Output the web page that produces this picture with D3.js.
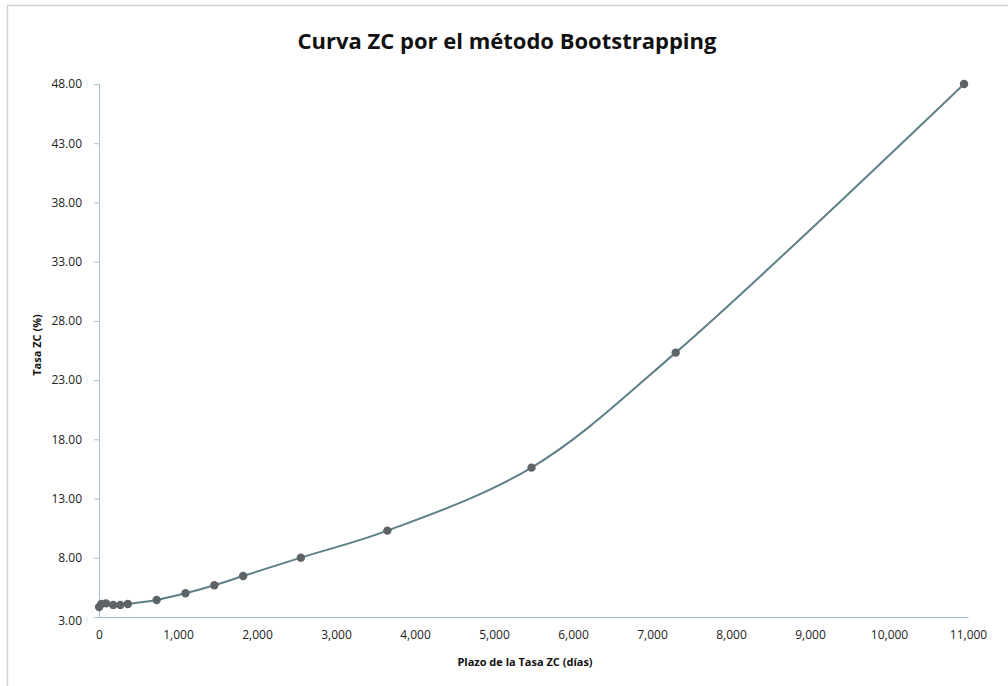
<!DOCTYPE html>
<html>
<head>
<meta charset="utf-8">
<script src="https://cdn.jsdelivr.net/npm/d3@7"></script>
<style>
  body { margin: 0; background: #fff; }
  text { font-family: "Open Sans", sans-serif; }
</style>
</head>
<body>
<script>
const w = 1008;
const h = 686;

// plazo (días) y tasa cero cupón (%)
const days = [1, 30, 90, 180, 270, 365, 730, 1095, 1460, 1825, 2555, 3650, 5475, 7300, 10950];
const rates = [3.85, 4.1, 4.15, 4.02, 4.02, 4.1, 4.44, 5.0, 5.68, 6.46, 8.01, 10.29, 15.61, 25.32, 48.0];
const yTicks = [3, 8, 13, 18, 23, 28, 33, 38, 43, 48];
const xTicks = [0, 1000, 2000, 3000, 4000, 5000, 6000, 7000, 8000, 9000, 10000, 11000];

const data = days.map((d, i) => ({ x: d, y: rates[i] }));

const svg = d3
  .select("body")
  .append("svg")
  .attr("width", w)
  .attr("height", h);

// marco del gráfico
svg
  .append("rect")
  .attr("x", 7.5)
  .attr("y", 5.5)
  .attr("width", w + 10)
  .attr("height", h + 10)
  .attr("fill", "#fff")
  .attr("stroke", "#cfd3d6")
  .attr("stroke-width", 1.5);

const x = d3.scaleLinear().domain([0, 11000]).range([99, 968]);
const y = d3.scaleLinear().domain([3, 48]).range([617, 84]);

svg
  .append("text")
  .attr("x", 507)
  .attr("y", 49)
  .attr("text-anchor", "middle")
  .attr("font-size", "22px")
  .attr("font-weight", "bold")
  .attr("fill", "#111")
  .text("Curva ZC por el método Bootstrapping");

// eje y
const yAxis = svg
  .append("g")
  .attr("transform", "translate(99,0)")
  .call(
    d3.axisLeft(y)
      .tickValues(yTicks)
      .tickFormat(d3.format(".2f"))
      .tickSize(5)
      .tickPadding(12)
  );
yAxis.select(".domain").attr("stroke", "#a9bfcb");
yAxis.selectAll(".tick line").attr("stroke", "#a9bfcb");
yAxis.selectAll("text").attr("font-size", "12px").attr("fill", "#222");
yAxis.select(".tick text").attr("dy", "0.6em");

// eje x
const xAxis = svg
  .append("g")
  .attr("transform", "translate(0,617)")
  .call(
    d3.axisBottom(x)
      .tickValues(xTicks)
      .tickFormat(d3.format(","))
      .tickSize(0)
      .tickPadding(13)
  );
xAxis.select(".domain").attr("stroke", "#a9bfcb");
xAxis.selectAll("text").attr("font-size", "12px").attr("fill", "#222");

svg
  .append("text")
  .attr("x", 525)
  .attr("y", 666)
  .attr("text-anchor", "middle")
  .attr("font-size", "11px")
  .attr("font-weight", "bold")
  .attr("fill", "#111")
  .text("Plazo de la Tasa ZC (días)");

svg
  .append("text")
  .attr("transform", "translate(41,345) rotate(-90)")
  .attr("text-anchor", "middle")
  .attr("font-size", "11px")
  .attr("font-weight", "bold")
  .attr("fill", "#111")
  .text("Tasa ZC (%)");

// curva suavizada
const line = d3
  .line()
  .x((d) => x(d.x))
  .y((d) => y(d.y))
  .curve(d3.curveCatmullRom.alpha(0.5));

svg
  .append("path")
  .datum(data)
  .attr("fill", "none")
  .attr("stroke", "#5f7f89")
  .attr("stroke-width", 2)
  .attr("d", line);

svg
  .selectAll("circle")
  .data(data)
  .enter()
  .append("circle")
  .attr("cx", (d) => x(d.x))
  .attr("cy", (d) => y(d.y))
  .attr("r", 4.2)
  .attr("fill", "#5d6366");
</script>
</body>
</html>
